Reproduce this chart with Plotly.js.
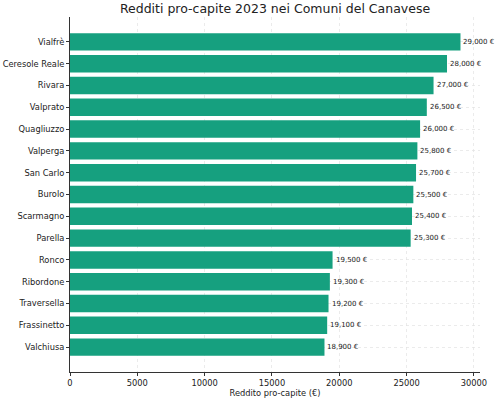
<!DOCTYPE html>
<html><head><meta charset="utf-8">
<script src="https://cdn.plot.ly/plotly-3.0.1.min.js"></script>
<style>body{margin:0;background:#fff}#c{width:500px;height:399px}</style>
</head><body><div id="c"></div>
<script>
const comuni = ["Vialfrè","Ceresole Reale","Rivara","Valprato","Quagliuzzo","Valperga","San Carlo","Burolo","Scarmagno","Parella","Ronco","Ribordone","Traversella","Frassinetto","Valchiusa"];
const redditi = [29000,28000,27000,26500,26000,25800,25700,25500,25400,25300,19500,19300,19200,19100,18900];
const xTicks = [0,5000,10000,15000,20000,25000,30000];

const fmt = v => v.toLocaleString('en-US') + ' €';
const font = "DejaVu Sans, sans-serif";

const trace = {
  type: 'bar', orientation: 'h', x: redditi, y: comuni,
  marker: {color: '#16a07f'}, width: 0.8, hoverinfo: 'none'
};
const annotations = comuni.map((c,i)=>({
  x: redditi[i], y: c, xref:'x', yref:'y', text: fmt(redditi[i]),
  showarrow:false, xanchor:'left', xshift:1, font:{family:font,size:7,color:'#222'}
}));
const layout = {
  width:500, height:399,
  margin:{l:70,r:20,t:17,b:27},
  paper_bgcolor:'#fff', plot_bgcolor:'#fff',
  title:{text:'Redditi pro-capite 2023 nei Comuni del Canavese', x:0.55, xanchor:'center', y:0.99, yanchor:'top', font:{family:font,size:12.5,color:'#222'}},
  xaxis:{range:[0,30450], tickvals:xTicks, ticktext:xTicks.map(String), showline:true, linecolor:'#333', linewidth:1,
    ticks:'outside', ticklen:3, tickcolor:'#333', showgrid:true, gridcolor:'#e2e2e2', griddash:'dot', gridwidth:0.7,
    zeroline:false, tickfont:{family:font,size:8.3,color:'#222'},
    title:{text:'Reddito pro-capite (€)', font:{family:font,size:8.3,color:'#222'}, standoff:2}, layer:'above traces'},
  yaxis:{autorange:false, range:[14.5+0.64, -0.5-0.64], type:'category', showline:true, linecolor:'#333', linewidth:1,
    ticks:'outside', ticklen:3, tickcolor:'#333', showgrid:true, gridcolor:'#e2e2e2', griddash:'dot', gridwidth:0.7,
    zeroline:false, tickfont:{family:font,size:8.3,color:'#222'}, layer:'above traces'},
  annotations: annotations, showlegend:false
};
Plotly.newPlot('c',[trace],layout,{displayModeBar:false,staticPlot:true});
</script></body></html>
